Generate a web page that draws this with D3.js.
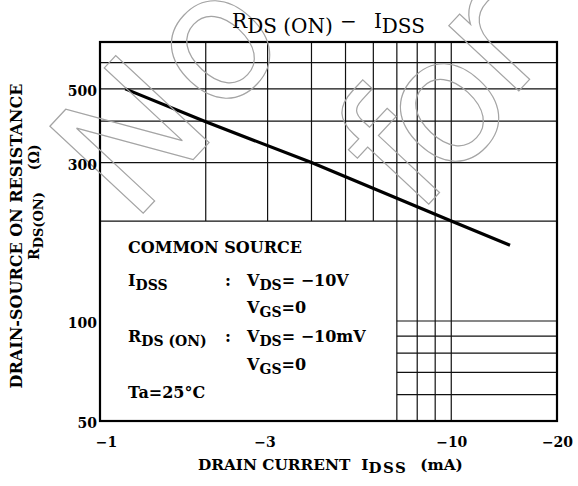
<!DOCTYPE html>
<html><head><meta charset="utf-8">
<script src="https://cdn.jsdelivr.net/npm/d3@7"></script>
<style>
html,body{margin:0;padding:0;background:#fff;}
svg{display:block;}
text{font-family:"DejaVu Serif",serif;fill:#000;white-space:pre;}
text.wm{fill:none;stroke:#a4a4a4;stroke-width:1.2px;font-family:"DejaVu Sans",sans-serif;font-size:175px;}
</style></head><body>
<svg id="c" width="578" height="486"></svg>
<script>
// ---- data ----
const currentMA   = [1.18, 2, 4, 10, 14.7];      // |I_DSS| (mA)
const resistance  = [500, 398, 300, 200, 169];   // R_DS(ON) (ohm)
const xTickValues = [1, 3, 10, 20];
const xTickLabels = ["\u22121", "\u22123", "\u221210", "\u221220"];
const yTickValues = [50, 100, 300, 500];
const yTickLabels = ["50", "100", "300", "500"];
const gridXUpper  = [2, 3, 4, 5, 6];
const gridXFull   = [7, 8, 9, 10];
const gridYUpper  = [200, 300, 400, 500, 600];
const gridYLower  = [60, 70, 80, 90, 100];
const xDomain     = [1, 20];
const yDomain     = [50, 692];
// watermark letters (decorative outline text behind the chart)
const wmLetters   = ["N", "o", "f", "o", "r"];

const svg = d3.select("#c");
svg.append("rect").attr("width",578).attr("height",486).attr("fill","#fff");
const L = 100, R = 557, T = 42, B = 421;
const x = d3.scaleLog().domain(xDomain).range([L, R]);
const y = d3.scaleLog().domain(yDomain).range([B, T]);

const grid = svg.append("g").attr("stroke","#111").attr("stroke-width",1.2).attr("fill","none");
grid.selectAll(".vu").data(gridXUpper).join("line")
  .attr("x1",d=>x(d)).attr("x2",d=>x(d)).attr("y1",y(yDomain[1])).attr("y2",y(200));
grid.selectAll(".vf").data(gridXFull).join("line")
  .attr("x1",d=>x(d)).attr("x2",d=>x(d)).attr("y1",y(yDomain[1])).attr("y2",y(yDomain[0]));
grid.selectAll(".hu").data(gridYUpper).join("line")
  .attr("x1",x(xDomain[0])).attr("x2",x(xDomain[1])).attr("y1",d=>y(d)).attr("y2",d=>y(d));
grid.selectAll(".hl").data(gridYLower).join("line")
  .attr("x1",x(7)).attr("x2",x(xDomain[1])).attr("y1",d=>y(d)).attr("y2",d=>y(d));

svg.append("rect").attr("x",L).attr("y",T).attr("width",R-L).attr("height",B-T)
  .attr("fill","none").attr("stroke","#000").attr("stroke-width",2.2);

const pts = currentMA.map((c,i)=>[c, resistance[i]]);
svg.append("path").datum(pts)
  .attr("d", d3.line().x(d=>x(d[0])).y(d=>y(d[1])))
  .attr("fill","none").attr("stroke","#000").attr("stroke-width",3.2);

// watermark
const wmPos = [[130,135,0.36],[221,50,0.27],[388,150,0.38],[450,113,0.27],[498,44,0.27]];
const wm = svg.append("g");
wmLetters.forEach((ch,i)=>{
  const p = wmPos[i];
  wm.append("text").attr("class","wm").attr("text-anchor","middle")
    .attr("transform",`translate(${p[0]},${p[1]}) rotate(-47)`).attr("dy",p[2]+"em").text(ch);
});

// axes
const xAx = svg.append("g").attr("transform",`translate(0,${B})`)
  .call(d3.axisBottom(x).tickValues(xTickValues).tickFormat((d,i)=>xTickLabels[i]).tickSize(0).tickPadding(16));
xAx.select(".domain").remove();
xAx.selectAll("text").attr("font-family","DejaVu Serif").attr("font-size",14).attr("font-weight","bold")
  .attr("dx",d=>d===1?6:(d===3?-3:0));
const yAx = svg.append("g").attr("transform",`translate(${L},0)`)
  .call(d3.axisLeft(y).tickValues(yTickValues).tickFormat((d,i)=>yTickLabels[i]).tickSize(0).tickPadding(3));
yAx.select(".domain").remove();
yAx.selectAll("text").attr("font-family","DejaVu Serif").attr("font-size",14).attr("font-weight","bold").attr("dy","0.46em");

function rich(parent, attrs, parts, size, subSize, subDy, weight){
  const t = parent.append("text").attr("font-size",size).attr("font-weight",weight||"normal");
  Object.entries(attrs).forEach(([k,v])=>t.attr(k,v));
  let down = false;
  parts.forEach(p=>{
    const s = t.append("tspan").text(p.t);
    if (p.sub && !down){ s.attr("dy",subDy); down = true; }
    else if (!p.sub && down){ s.attr("dy",-subDy); down = false; }
    if (p.sub) s.attr("font-size",subSize);
    if (p.dx) s.attr("dx",p.dx);
    if (p.ls) s.attr("letter-spacing",p.ls);
  });
  return t;
}

// title
rich(svg, {x:(L+R)/2, y:28, "text-anchor":"middle"},
  [{t:"R"},{t:"DS (ON)",sub:true},{t:" \u2212",dx:1},{t:"I",dx:17},{t:"DSS",sub:true}], 20, 20, 5, "normal");

// x label
rich(svg, {x:198, y:470}, [{t:"DRAIN CURRENT"},{t:"I",dx:11},{t:"DSS",sub:true,ls:1.5},{t:"(mA)",dx:13}], 15.3, 15, 3, "bold");

// y label
svg.append("text").attr("transform","translate(22,236) rotate(-90)").attr("text-anchor","middle")
  .attr("font-size",16).attr("font-weight","bold").text("DRAIN-SOURCE ON RESISTANCE");
rich(svg, {transform:"translate(39,260) rotate(-90)"},
  [{t:"R"},{t:"DS(ON)",sub:true},{t:"(\u03A9)",dx:22}], 14, 13, 4, "bold");

// legend
const lg = svg.append("g");
const c1 = 128, c2 = 225, c3 = 247;
rich(lg,{x:c1,y:253},[{t:"COMMON SOURCE"}],16,14,4,"bold");
rich(lg,{x:c1,y:286},[{t:"I"},{t:"DSS",sub:true}],16,14,4,"bold");
rich(lg,{x:c2,y:286},[{t:":"}],16,14,4,"bold");
rich(lg,{x:c3,y:286},[{t:"V"},{t:"DS",sub:true},{t:"= \u221210V"}],16,14,4,"bold");
rich(lg,{x:c3,y:313},[{t:"V"},{t:"GS",sub:true},{t:"=0"}],16,14,4,"bold");
rich(lg,{x:c1,y:342},[{t:"R"},{t:"DS (ON)",sub:true}],16,14,4,"bold");
rich(lg,{x:c2,y:342},[{t:":"}],16,14,4,"bold");
rich(lg,{x:c3,y:342},[{t:"V"},{t:"DS",sub:true},{t:"= \u221210mV"}],16,14,4,"bold");
rich(lg,{x:c3,y:370},[{t:"V"},{t:"GS",sub:true},{t:"=0"}],16,14,4,"bold");
rich(lg,{x:c1,y:398},[{t:"Ta=25\u00B0C"}],16,14,4,"bold");
</script>
</body></html>
